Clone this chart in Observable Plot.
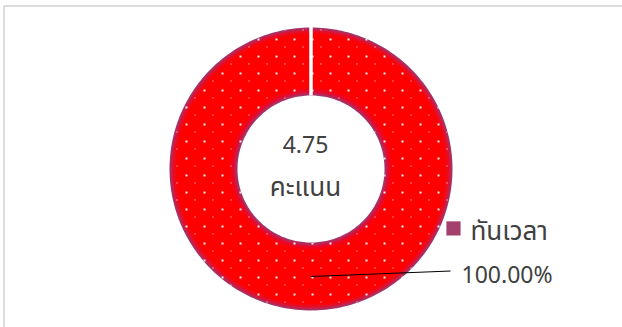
<!DOCTYPE html>
<html>
<head>
<meta charset="utf-8">
<script src="https://cdn.jsdelivr.net/npm/d3@7"></script>
<script src="https://cdn.jsdelivr.net/npm/@observablehq/plot@0.6"></script>
<style>
  html, body { margin: 0; padding: 0; background: #fff; }
  #wrap { position: relative; width: 622px; height: 327px; overflow: hidden; }
  #frame { position: absolute; left: 3px; top: 5px; width: 700px; height: 400px; border: 2px solid #dcdcdc; box-sizing: border-box; }
  #chart { position: absolute; left: 0; top: 0; }
  svg text { font-family: "Leelawadee UI", Tahoma, "Noto Sans Thai", "Noto Sans", "DejaVu Sans", sans-serif; }
</style>
</head>
<body>
<div id="wrap"><div id="frame"></div><div id="chart"></div></div>
<script>
// ---- data ----
const categories = ["ทันเวลา"];
const values = [100];
const percentLabels = ["100.00%"];
const centerLines = ["4.75", "คะแนน"];

// ---- layout ----
const W = 622, H = 327;
const CX = 310.5, CY = 168.5, R = 141.5;
const INNER = 73.5 / 141.5;
const textColor = "#404040";

const total = d3.sum(values);
let acc = 0;
const slices = categories.map((c, i) => {
  const a0 = acc / total * 2 * Math.PI;
  acc += values[i];
  const a1 = acc / total * 2 * Math.PI;
  return {category: c, value: values[i], label: percentLabels[i], a0, a1};
});

const N = 240;
const ringPts = [];
for (const s of slices) {
  for (let k = 0; k <= N; k++) {
    const a = s.a0 + (s.a1 - s.a0) * k / N;
    ringPts.push({category: s.category, x: Math.sin(a), y: Math.cos(a)});
  }
  for (let k = N; k >= 0; k--) {
    const a = s.a0 + (s.a1 - s.a0) * k / N;
    ringPts.push({category: s.category, x: INNER * Math.sin(a), y: INNER * Math.cos(a)});
  }
}
const gaps = slices.map(s => ({
  x1: INNER * Math.sin(s.a0), y1: INNER * Math.cos(s.a0),
  x2: 1.02 * Math.sin(s.a0), y2: 1.02 * Math.cos(s.a0)
}));
const rMid = (1 + INNER) / 2;
const leaders = slices.map(s => {
  const am = (s.a0 + s.a1) / 2;
  return {x1: rMid * Math.sin(am), y1: rMid * Math.cos(am), x2: 0.986, y2: -0.721, label: s.label};
});

const chart = Plot.plot({
  width: W, height: H,
  margin: 0,
  x: {domain: [-1, 1], range: [CX - R, CX + R], axis: null},
  y: {domain: [-1, 1], range: [CY + R, CY - R], axis: null},
  style: {background: "transparent", overflow: "visible"},
  marks: [
    Plot.line(ringPts, {x: "x", y: "y", z: "category", curve: "linear-closed", fill: "url(#ringGrad)", stroke: "none"}),
    Plot.line(ringPts, {x: "x", y: "y", z: "category", curve: "linear-closed", fill: "url(#dotPat)", stroke: "none"}),
    Plot.link(gaps, {x1: "x1", y1: "y1", x2: "x2", y2: "y2", stroke: "white", strokeWidth: 3.5, strokeLinecap: "butt"}),
    Plot.link(leaders, {x1: "x1", y1: "y1", x2: "x2", y2: "y2", stroke: "#000", strokeWidth: 1}),
    Plot.text(leaders, {x: 1.064, y: -0.809, text: "label", textAnchor: "start", lineAnchor: "bottom", fontSize: 23, fill: textColor}),
    Plot.text([centerLines[0]], {x: -0.039, y: 0.11, text: d => d, textAnchor: "middle", lineAnchor: "bottom", fontSize: 23, fill: textColor}),
    Plot.text([centerLines[1]], {x: -0.039, y: -0.19, text: d => d, textAnchor: "middle", lineAnchor: "bottom", fontSize: 26, fill: textColor}),
    Plot.dot(categories, {x: 1.007, y: -0.42, symbol: "square", r: 8, fill: "#a3406c", stroke: "none"}),
    Plot.text(categories, {x: 1.127, y: -0.5, text: d => d, textAnchor: "start", lineAnchor: "bottom", fontSize: 26, fill: textColor})
  ]
});

const defs = d3.select(chart).insert("defs", ":first-child");
const g = defs.append("radialGradient").attr("id", "ringGrad")
  .attr("cx", 0.5).attr("cy", 0.5).attr("r", 0.5);
[[INNER, "#9a3a72"], [INNER + 0.03, "#e8082a"], [INNER + 0.06, "#ff0000"],
 [0.95, "#ff0000"], [0.975, "#e0102e"], [1, "#9a3a72"]].forEach(([o, c]) =>
  g.append("stop").attr("offset", o).attr("stop-color", c));
const p = defs.append("pattern").attr("id", "dotPat").attr("patternUnits", "userSpaceOnUse")
  .attr("width", 18).attr("height", 17);
p.append("rect").attr("x", 5).attr("y", 4).attr("width", 2).attr("height", 2).attr("fill", "#f2f6fc");
p.append("rect").attr("x", 14).attr("y", 12).attr("width", 1).attr("height", 1).attr("fill", "#ffffff");

document.getElementById("chart").appendChild(chart);
</script>
</body>
</html>
